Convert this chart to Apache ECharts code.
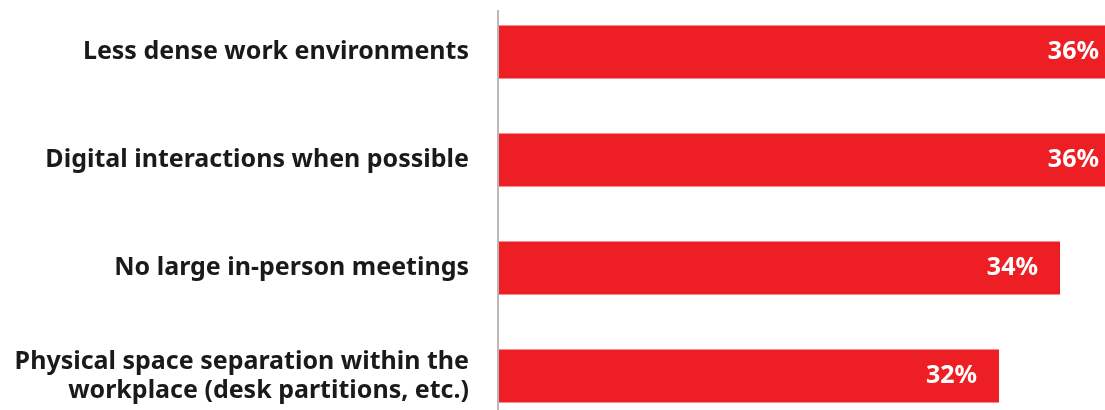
<!DOCTYPE html>
<html>
<head>
<meta charset="utf-8">
<script src="https://cdn.jsdelivr.net/npm/echarts@6/dist/echarts.min.js"></script>
<style>
  html, body { margin: 0; padding: 0; background: #fff; }
  #chart { width: 1105px; height: 410px; }
</style>
</head>
<body>
<div id="chart"></div>
<script>
const categories = [
  'Less dense work environments',
  'Digital interactions when possible',
  'No large in-person meetings',
  'Physical space separation within the\nworkplace (desk partitions, etc.)',
];
const values = [36, 36, 34, 32];

const chart = echarts.init(document.getElementById('chart'));

chart.setOption({
  animation: false,
  // plot area runs past the canvas on the right and bottom, like the source crop
  grid: {
    left: 499,
    top: -2,
    width: 622,
    height: 432,
    outerBoundsMode: 'none',
    containLabel: false,
  },
  xAxis: {
    type: 'value',
    min: 15.6, // axis does not start at zero in the source
    max: 36,
    show: false,
  },
  yAxis: {
    type: 'category',
    inverse: true,
    data: categories,
    axisLine: { show: false },
    axisTick: { show: false },
    axisLabel: {
      margin: 30,
      color: '#1a1a1a',
      fontFamily: 'Noto Sans',
      fontWeight: 'bold',
      fontSize: 25,
      lineHeight: 29,
      align: 'right',
    },
  },
  graphic: [
    {
      // thin gray baseline on the left of the bars
      type: 'line',
      shape: { x1: 498, y1: 10, x2: 498, y2: 410 },
      style: { stroke: '#b8b8b8', lineWidth: 2 },
      silent: true,
    },
  ],
  series: [
    {
      type: 'bar',
      data: values,
      barCategoryGap: '51%',
      itemStyle: { color: '#ED1F24' },
      label: {
        show: true,
        position: 'insideRight',
        distance: 22,
        color: '#fff',
        fontFamily: 'Noto Sans',
        fontWeight: 'bold',
        fontSize: 25,
        formatter: (p) => p.value + '%',
      },
    },
  ],
});
</script>
</body>
</html>
